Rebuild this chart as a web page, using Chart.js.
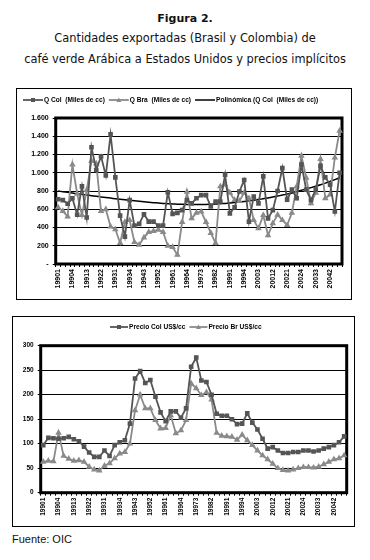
<!DOCTYPE html>
<html>
<head>
<meta charset="utf-8">
<script src="https://cdn.jsdelivr.net/npm/chart.js"></script>
<style>
  body { margin: 0; width: 370px; height: 560px; background: #fff; position: relative; overflow: hidden; }
  .txt { position: absolute; left: 0; width: 370px; text-align: center; white-space: nowrap; color: #111; }
  .title { top: 12px; font: bold 11px/13px "DejaVu Sans", sans-serif; }
  .sub { font: 11.4px/13px "DejaVu Sans", sans-serif; }
  .box { position: absolute; border: 1px solid #000; background: #fff; }
  #box1 { left: 16px; top: 88px; width: 334px; height: 210px; }
  #box2 { left: 12px; top: 316px; width: 341px; height: 209px; }
  .src { position: absolute; left: 12px; top: 533px; font: 11px/13px "Liberation Sans", Arial, sans-serif; color: #111; }
</style>
</head>
<body>
<div class="txt title">Figura 2.</div>
<div class="txt sub" style="top:32px">Cantidades exportadas (Brasil y Colombia) de</div>
<div class="txt sub" style="top:53px">café verde Arábica a Estados Unidos y precios implícitos</div>
<div class="box" id="box1"><canvas id="chartQty" width="334" height="210"></canvas></div>
<div class="box" id="box2"><canvas id="chartPrice" width="341" height="209"></canvas></div>
<div class="src">Fuente: OIC</div>

<script>
// Quarters: year + quarter number (1990 Q1 .. 2004 Q4)
const quarters = [
    '19901','19902','19903','19904','19911','19912','19913','19914','19921','19922','19923','19924',
    '19931','19932','19933','19934','19941','19942','19943','19944','19951','19952','19953','19954',
    '19961','19962','19963','19964','19971','19972','19973','19974','19981','19982','19983','19984',
    '19991','19992','19993','19994','20001','20002','20003','20004','20011','20012','20013','20014',
    '20021','20022','20023','20024','20031','20032','20033','20034','20041','20042','20043','20044'
];

// Quantities (miles de sacos)
const qCol = [710, 700, 660, 720, 540, 850, 510, 1280, 1030, 1180, 970, 1420, 950, 530, 300, 700, 420, 440, 545, 465,
    465, 420, 420, 785, 550, 560, 590, 700, 665, 720, 755, 755, 630, 685, 685, 980, 555, 620, 795, 920,
    465, 740, 665, 960, 500, 590, 800, 1050, 705, 815, 720, 1090, 815, 700, 815, 1075, 950, 870, 575, 1000];
const qBra = [620, 580, 520, 1090, 770, 535, 810, 1130, 1100, 580, 600, 410, 380, 230, 460, 480, 240, 210, 290, 350,
    360, 375, 350, 200, 185, 100, 460, 790, 500, 560, 575, 460, 340, 230, 850, 870, 780, 700, 690, 780,
    720, 480, 390, 535, 315, 445, 540, 480, 425, 560, 850, 1185, 945, 665, 780, 1150, 720, 760, 1165, 1460];
// polynomial trend of Q Col
const trendCol = [800, 792, 785, 777, 770, 763, 756, 749, 742, 735, 728, 722, 716, 710, 704, 698, 692, 687, 682, 677,
    672, 668, 664, 661, 658, 656, 654, 653, 652, 652, 652, 653, 655, 657, 660, 664, 668, 673, 679, 685,
    692, 699, 707, 715, 724, 734, 744, 755, 766, 778, 795, 808, 822, 837, 852, 868, 886, 905, 925, 945];

// Prices (US$/cc)
const priceCol = [97, 112, 111, 110, 111, 114, 109, 105, 94, 82, 73, 73, 86, 75, 97, 103, 107, 141, 233, 248,
    224, 230, 196, 164, 146, 166, 166, 153, 172, 257, 276, 229, 226, 200, 161, 157, 157, 150, 140, 141,
    162, 143, 129, 110, 90, 93, 86, 81, 81, 83, 83, 86, 86, 84, 86, 90, 93, 97, 103, 115];
const priceBr = [63, 65, 64, 122, 75, 69, 65, 66, 63, 53, 47, 45, 55, 60, 70, 80, 83, 100, 168, 200,
    172, 172, 148, 131, 132, 158, 121, 127, 148, 223, 213, 199, 205, 190, 122, 116, 115, 114, 108, 118,
    107, 97, 86, 76, 68, 59, 50, 46, 45, 47, 50, 52, 52, 51, 53, 58, 63, 68, 70, 76];

const FONT = 'Liberation Sans, Arial, sans-serif';
const COL_GREY = '#555555';
const BRA_GREY = '#8a8a8a';

// thick frame round the plot area
const plotFrame = {
    id: 'plotFrame',
    beforeDatasetsDraw(chart) {
        const a = chart.chartArea;
        const ctx = chart.ctx;
        ctx.save();
        ctx.strokeStyle = '#000';
        ctx.lineWidth = 3;
        ctx.strokeRect(a.left, a.top, a.right - a.left, a.bottom - a.top);
        ctx.restore();
    }
};

// legend like excel: line sample with marker, then text
const lineLegend = {
    id: 'lineLegend',
    afterDraw(chart, args, opts) {
        const ctx = chart.ctx;
        ctx.save();
        ctx.font = opts.font;
        ctx.textBaseline = 'middle';
        let x = opts.x;
        const y = opts.y;
        chart.data.datasets.forEach(ds => {
            ctx.strokeStyle = ds.borderColor;
            ctx.lineWidth = ds.borderWidth;
            ctx.beginPath();
            ctx.moveTo(x, y);
            ctx.lineTo(x + opts.sample, y);
            ctx.stroke();
            const cx = x + opts.sample / 2;
            ctx.fillStyle = ds.pointBackgroundColor || ds.borderColor;
            if (ds.pointStyle === 'rect' && ds.pointRadius > 0) {
                ctx.fillRect(cx - 2, y - 2, 4, 4);
            } else if (ds.pointStyle === 'triangle' && ds.pointRadius > 0) {
                ctx.beginPath();
                ctx.moveTo(cx, y - 2.5);
                ctx.lineTo(cx + 2.5, y + 2);
                ctx.lineTo(cx - 2.5, y + 2);
                ctx.closePath();
                ctx.fill();
            }
            x += opts.sample + 1;
            ctx.fillStyle = '#000';
            ctx.fillText(ds.label, x, y);
            x += ctx.measureText(ds.label).width + opts.gap;
        });
        ctx.restore();
    }
};

function thousands(v) {
    if (v === 0) return '-';
    return String(v).replace(/\B(?=(\d{3})+(?!\d))/g, '.');
}

function xAxis(height, size) {
    return {
        type: 'category',
        offset: true,
        grid: { offset: true, drawOnChartArea: false, drawTicks: true, tickLength: 3, color: '#000' },
        border: { display: false },
        ticks: {
            autoSkip: false,
            minRotation: 90,
            maxRotation: 90,
            padding: 2,
            color: '#000',
            font: { family: FONT, size: size, weight: 'bold' },
            callback: function (v, i) { return i % 3 === 0 ? this.getLabelForValue(v) : ''; }
        },
        afterFit: s => { s.height = height; }
    };
}

function series(label, data, color, style) {
    return {
        label: label,
        data: data,
        borderColor: color,
        backgroundColor: color,
        pointBackgroundColor: color,
        pointBorderColor: color,
        borderWidth: 1.8,
        pointStyle: style,
        pointRadius: 2,
        tension: 0,
        fill: false
    };
}

// ==========================
// QUANTITIES CHART
// ==========================
new Chart(document.getElementById('chartQty'), {
    type: 'line',
    data: {
        labels: quarters,
        datasets: [
            series('Q Col  (Miles de cc)', qCol, COL_GREY, 'rect'),
            series('Q Bra  (Miles de cc)', qBra, BRA_GREY, 'triangle'),
            {
                label: 'Polinómica (Q Col  (Miles de cc))',
                data: trendCol,
                borderColor: '#000',
                borderWidth: 1.5,
                pointRadius: 0,
                tension: 0.3,
                fill: false
            }
        ]
    },
    options: {
        responsive: false,
        animation: false,
        layout: { padding: { top: 29, right: 9, left: 0, bottom: 0 } },
        plugins: {
            legend: { display: false },
            tooltip: { enabled: false },
            lineLegend: { x: 6, y: 11, sample: 20, gap: 4, font: 'bold 6.6px ' + FONT }
        },
        scales: {
            x: xAxis(35, 7),
            y: {
                min: 0,
                max: 1600,
                ticks: { stepSize: 200, padding: 4, color: '#000', font: { family: FONT, size: 7, weight: 'bold' }, callback: thousands },
                grid: { color: '#000', lineWidth: 1, tickLength: 3 },
                border: { display: false },
                afterFit: s => { s.width = 38.7; }
            }
        }
    },
    plugins: [plotFrame, lineLegend]
});

// ==========================
// PRICES CHART
// ==========================
new Chart(document.getElementById('chartPrice'), {
    type: 'line',
    data: {
        labels: quarters,
        datasets: [
            series('Precio Col US$/cc', priceCol, COL_GREY, 'rect'),
            series('Precio Br US$/cc', priceBr, BRA_GREY, 'triangle')
        ]
    },
    options: {
        responsive: false,
        animation: false,
        layout: { padding: { top: 28.7, right: 6.3, left: 0, bottom: 0 } },
        plugins: {
            legend: { display: false },
            tooltip: { enabled: false },
            lineLegend: { x: 97, y: 10, sample: 18, gap: 4, font: 'bold 6.6px ' + FONT }
        },
        scales: {
            x: xAxis(33.3, 6.5),
            y: {
                min: 0,
                max: 300,
                ticks: { stepSize: 50, padding: 4, color: '#000', font: { family: FONT, size: 6.5, weight: 'bold' } },
                grid: { color: '#000', lineWidth: 1, tickLength: 3 },
                border: { display: false },
                afterFit: s => { s.width = 27.7; }
            }
        }
    },
    plugins: [plotFrame, lineLegend]
});
</script>
</body>
</html>
